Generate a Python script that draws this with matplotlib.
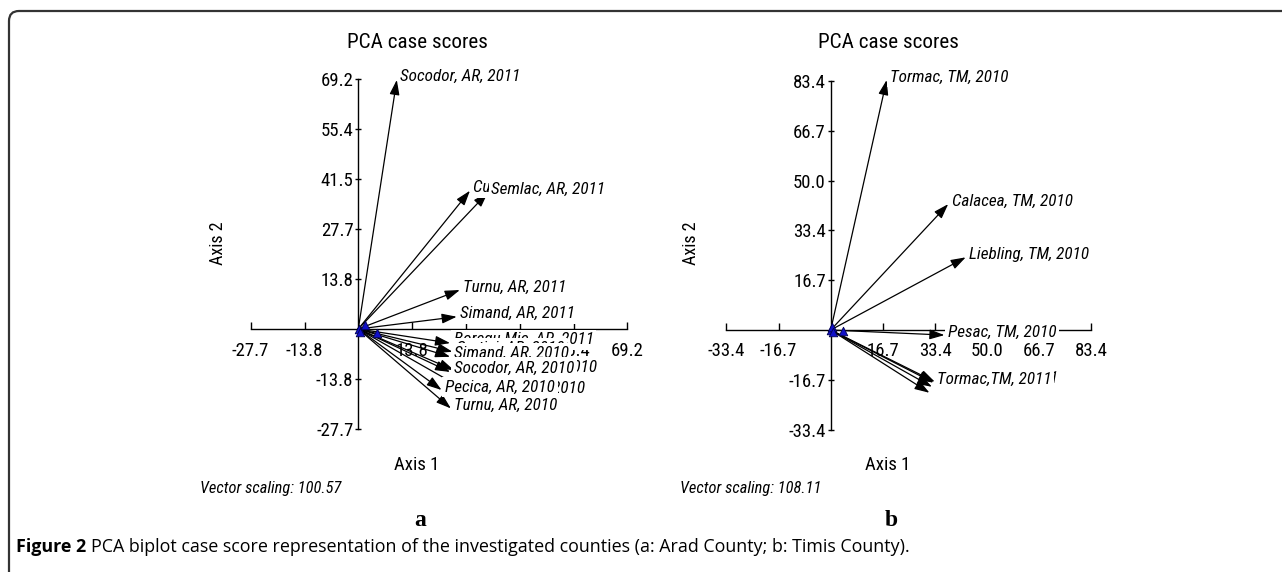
import matplotlib
matplotlib.use("Agg")
import matplotlib.pyplot as plt
from matplotlib import font_manager as fm
from matplotlib.patches import FancyBboxPatch
from matplotlib.transforms import IdentityTransform

W, H, DPI = 1282, 572, 100

# ---------------- data ----------------
arad_ticks = [-27.7, -13.8, 13.8, 27.7, 41.5, 55.4, 69.2]
arad_names = ["Socodor, AR, 2011", "Curtici, AR, 2011", "Semlac, AR, 2011",
              "Turnu, AR, 2011", "Simand, AR, 2011", "Boregu Mic, AR, 2011",
              "Curtici, AR, 2010", "Simand, AR, 2010", "Boregu Mic, AR, 2010",
              "Socodor, AR, 2010", "Semlac, AR, 2010", "Pecica, AR, 2010",
              "Turnu, AR, 2010"]
arad_x = [9.9, 28.7, 33.3, 26.1, 25.3, 23.6, 24.2, 23.6, 24.6, 23.6, 28.0, 21.4, 23.8]
arad_y = [69.0, 38.3, 37.8, 10.8, 3.4, -3.9, -6.3, -7.7, -11.4, -11.9, -17.2, -16.9, -22.0]
arad_pts_x = [0.1, 0.4, 1.7, 4.7]
arad_pts_y = [0.0, -0.7, 1.1, -1.0]

timis_ticks = [-33.4, -16.7, 16.7, 33.4, 50.0, 66.7, 83.4]
timis_names = ["Tormac, TM, 2010", "Calacea, TM, 2010", "Liebling, TM, 2010",
               "Pesac, TM, 2010", "", "", "Liebling, TM, 2011", "Tormac,TM, 2011"]
timis_x = [17.9, 37.6, 43.2, 36.4, 31.6, 32.4, 33.3, 32.9]
timis_y = [83.6, 42.1, 24.3, -1.7, -21.0, -19.0, -17.3, -17.6]
timis_pts_x = [0.1, 0.3, 0.8, 3.8]
timis_pts_y = [0.0, 1.1, -0.8, -0.5]


# ---------------- fonts: look for a narrow sans ----------------
def find_narrow(style):
    prefs = ["Liberation Sans Narrow", "Arial Narrow", "Roboto Condensed",
             "Open Sans Condensed", "Noto Sans Condensed", "DejaVu Sans Condensed",
             "Noto Sans", "DejaVu Sans", "Open Sans", "Roboto"]
    cands = []
    for f in fm.fontManager.ttflist:
        nm = f.name
        narrow = ("Narrow" in nm or "Condensed" in nm or
                  str(f.stretch) in ("condensed", "semi-condensed", "extra-condensed", "ultra-condensed")
                  or "Condensed" in f.fname or "Narrow" in f.fname)
        if not narrow or "Extra" in f.fname or "Ultra" in f.fname or "Semi" in f.fname:
            continue
        w = f.weight if isinstance(f.weight, int) else (700 if "bold" in str(f.weight) else 400)
        if w != 400:
            continue
        if (f.style != "normal") != (style != "normal"):
            continue
        rank = len(prefs)
        for i, p in enumerate(prefs):
            if p in nm or p.replace(" ", "") in f.fname.replace(" ", ""):
                rank = i
                break
        cands.append((rank, f.fname))
    cands.sort()
    return cands[0][1] if cands else None


REG_F = find_narrow("normal")
IT_F = find_narrow("italic")
SHRINK = 1.0 if REG_F else 0.84


def nprops(size, italic=False):
    f = IT_F if italic else REG_F
    if f:
        return fm.FontProperties(fname=f, size=size)
    return fm.FontProperties(family="Liberation Sans", style="italic" if italic else "normal",
                             size=size * SHRINK)


CAPF = "Open Sans"

fig = plt.figure(figsize=(W / DPI, H / DPI), dpi=DPI)
fig.patch.set_facecolor("white")


def px(x, y):
    return x / W, 1 - y / H


def make_panel(box, origin, scale, ticks, names, xs, ys, ptx, pty):
    (l, t, r, b) = box
    ox, oy = origin
    sx, sy = scale
    ax = fig.add_axes([l / W, 1 - b / H, (r - l) / W, (b - t) / H])
    ax.set_xlim(-(ox - l) / sx, (r - ox) / sx)
    ax.set_ylim(-(b - oy) / sy, (oy - t) / sy)
    ax.patch.set_alpha(0)
    for s in ("top", "right"):
        ax.spines[s].set_visible(False)
    ax.spines["left"].set_position(("data", 0))
    ax.spines["bottom"].set_position(("data", 0))
    ax.spines["left"].set_bounds(ticks[0], ticks[-1])
    ax.spines["bottom"].set_bounds(ticks[0], ticks[-1])
    for s in ("left", "bottom"):
        ax.spines[s].set_linewidth(1.0)
    ax.set_xticks(ticks)
    ax.set_yticks(ticks)
    ax.set_xticklabels([f"{v:.1f}" for v in ticks], fontproperties=nprops(13.5))
    ax.set_yticklabels([f"{v:.1f}" for v in ticks], fontproperties=nprops(13.5))
    ax.tick_params(axis="x", direction="in", length=5, width=1.0, pad=9)
    ax.tick_params(axis="y", direction="inout", length=5, width=1.0, pad=1)
    ax.set_xticks([ticks[0], ticks[-1]], minor=True)
    ax.tick_params(axis="x", which="minor", direction="out", length=5, width=1.0)

    for x, y in zip(xs, ys):
        ax.annotate("", xy=(x, y), xytext=(0, 0),
                    arrowprops=dict(arrowstyle="-|>,head_length=0.75,head_width=0.25",
                                    lw=0.9, color="black", shrinkA=0, shrinkB=0,
                                    mutation_scale=12),
                    zorder=3, annotation_clip=False)
    for i, (n, x, y) in enumerate(zip(names, xs, ys)):
        if not n:
            continue
        ax.annotate(n, xy=(x, y), xytext=(2.5, -1), textcoords="offset points",
                    ha="left", va="baseline", fontproperties=nprops(12.3, True),
                    zorder=4 + i * 0.01,
                    bbox=dict(boxstyle="square,pad=0.16", fc="white", ec="none"),
                    annotation_clip=False)
    ax.scatter(ptx, pty, marker="^", s=38, c="#1010c8", edgecolors="#000050",
               linewidths=0.6, zorder=3.5, clip_on=False)
    return ax


make_panel((230, 60, 640, 445), (358.3, 329.0), (3.89, 3.61), arad_ticks,
           arad_names, arad_x, arad_y, arad_pts_x, arad_pts_y)
make_panel((700, 60, 1120, 445), (830.7, 330.0), (3.125, 2.99), timis_ticks,
           timis_names, timis_x, timis_y, timis_pts_x, timis_pts_y)

# ---------------- panel texts ----------------
for cx, tag, vs_x, vs in ((417, "a", 200, "100.57"), (888, "b", 680, "108.11")):
    fig.text(*px(cx, 42), "PCA case scores", ha="center", va="center",
             fontproperties=nprops(15.2))
    fig.text(*px(cx, 465), "Axis 1", ha="center", va="center",
             fontproperties=nprops(13.5))
    fig.text(*px(vs_x, 488), "Vector scaling: " + vs,
             ha="left", va="center", fontproperties=nprops(11.8, True))
    fig.text(*px(cx + 3, 520), tag, ha="center", va="center", fontsize=17,
             weight="bold", family="Liberation Serif")
fig.text(*px(218, 243), "Axis 2", ha="center", va="center", rotation=90,
         fontproperties=nprops(13))
fig.text(*px(691, 243), "Axis 2", ha="center", va="center", rotation=90,
         fontproperties=nprops(13))

# ---------------- caption ----------------
fig.canvas.draw()
rend = fig.canvas.get_renderer()
cap1 = "Figure 2"
cap2 = "PCA biplot case score representation of the investigated counties (a: Arad County; b: Timis County)."
size = 10.5
t1 = fig.text(*px(16, 547), cap1, ha="left", va="center", fontsize=size,
              weight="bold", family=CAPF)
t2 = fig.text(0, 1 - 547 / H, cap2, ha="left", va="center", fontsize=size, family=CAPF)
w = t1.get_window_extent(rend).width + 5 + t2.get_window_extent(rend).width
size = size * 900.0 / w
t1.set_fontsize(size)
t2.set_fontsize(size)
bb = t1.get_window_extent(rend)
t2.set_x((bb.x1 + 5) / W)

# ---------------- frame (rounded top-left corner) ----------------
frame = FancyBboxPatch((9, -60), 1400, H - 11 + 60,
                       boxstyle="round,pad=0,rounding_size=10",
                       transform=IdentityTransform(), fill=False,
                       ec="#333333", lw=1.6, clip_on=False)
fig.add_artist(frame)

fig.savefig("out.png", dpi=DPI, facecolor="white")
